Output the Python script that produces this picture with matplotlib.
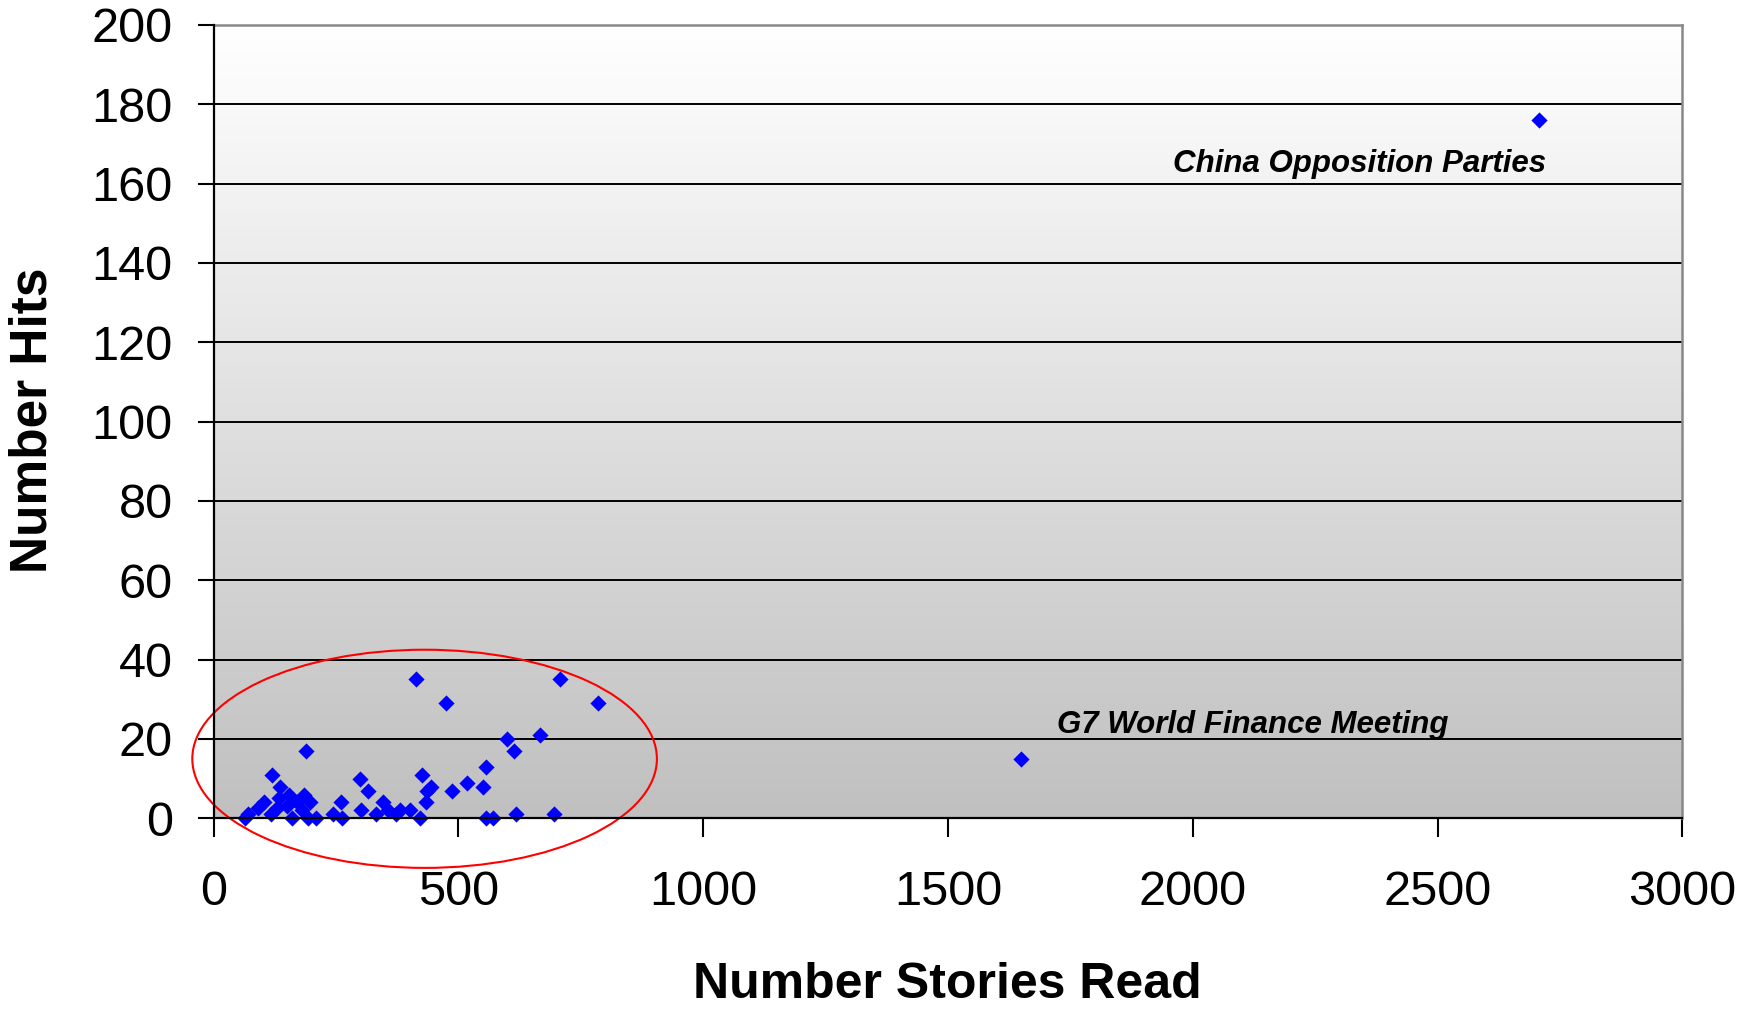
import matplotlib
matplotlib.use("Agg")
import matplotlib.pyplot as plt
import numpy as np
from matplotlib.patches import Ellipse

plt.rcParams['font.family'] = ['Liberation Sans', 'DejaVu Sans']

# Data
stories_read = [64, 71, 91, 103, 118, 119, 129, 134, 135, 149, 153, 160, 170, 180,
                184, 188, 193, 197, 210, 244, 261, 263, 299, 302, 316, 331, 346, 356,
                372, 380, 401, 413, 421, 425, 433, 435, 445,
                474, 486, 518, 550, 556, 557, 571, 600, 614, 617, 666, 695, 707, 785,
                1650, 2707]
hits = [0, 1, 2.5, 4, 1, 11, 2.5, 5, 8, 3, 6, 0, 4, 2,
        6, 17, 0, 4, 0, 1, 4, 0, 10, 2, 7, 1, 4, 2,
        1, 2, 2, 35, 0, 11, 4, 7, 8,
        29, 7, 9, 8, 13, 0, 0, 20, 17, 1, 21, 1, 35, 29,
        15, 176]

annotations = [("China Opposition Parties", 2722, 163, 'right'),
               ("G7 World Finance Meeting", 1722, 21.5, 'left')]

x_ticks = [0, 500, 1000, 1500, 2000, 2500, 3000]
y_ticks = list(range(0, 201, 20))

fig = plt.figure(figsize=(17.56, 10.10), dpi=100)
ax = fig.add_axes([213.6 / 1756, 1 - 818.3 / 1010, (1682.3 - 213.6) / 1756, (818.3 - 25) / 1010])

# gradient background (white at top, grey at bottom)
grad = np.linspace(0, 1, 256).reshape(-1, 1)
cmap = matplotlib.colors.LinearSegmentedColormap.from_list('g', ['#ffffff', '#c0c0c0'])
ax.imshow(grad, aspect='auto', cmap=cmap, extent=[0, 3000, 0, 200], origin='upper', zorder=0)
ax.set_xlim(0, 3000)
ax.set_ylim(0, 200)

for yv in y_ticks[1:-1]:
    ax.axhline(yv, color='black', lw=1.4, zorder=1)

ax.scatter(stories_read, hits, marker='D', s=68, color='#0000ff', linewidths=0,
           zorder=4, clip_on=False)

ell = Ellipse((431, 15), 949, 55, fill=False, ec='#ff0000', lw=1.5, clip_on=False, zorder=3)
ax.add_patch(ell)

for txt, xx, yy, ha in annotations:
    ax.text(xx, yy, txt, ha=ha, va='baseline', fontsize=22.5, fontweight='bold',
            fontstyle='italic', color='black', zorder=5)

ax.set_xticks(x_ticks)
ax.set_yticks(y_ticks)
ax.tick_params(axis='y', direction='out', length=11.5, width=1.5, pad=18, labelsize=35)
ax.tick_params(axis='x', direction='out', length=13.5, width=1.5, pad=24, labelsize=35)

for s in ['left', 'bottom']:
    ax.spines[s].set_color('black')
    ax.spines[s].set_linewidth(1.6)
    ax.spines[s].set_zorder(5)
for s in ['top', 'right']:
    ax.spines[s].set_color('#888888')
    ax.spines[s].set_linewidth(1.8)

fig.text(947.5 / 1756, 1 - 985 / 1010, 'Number Stories Read', ha='center', va='center',
         fontsize=36, fontweight='bold')
fig.text(33 / 1756, 1 - 420 / 1010, 'Number Hits', ha='center', va='center',
         fontsize=37, fontweight='bold', rotation=90)

fig.savefig('out.png', dpi=100)
